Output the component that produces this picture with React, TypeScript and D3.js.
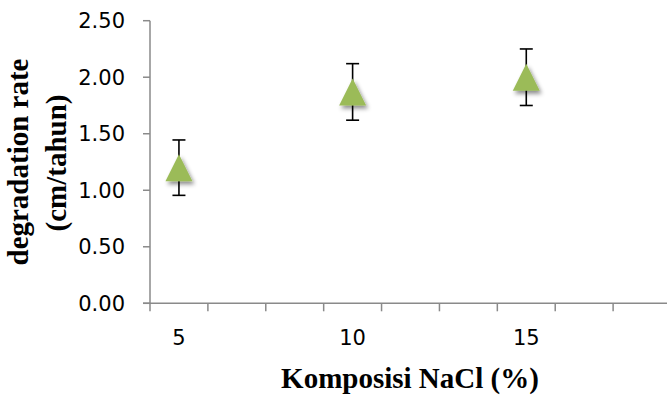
import React from "react";
import * as d3 from "d3";

const categories = ["5", "", "", "10", "", "", "15", "", ""];
const pointCategoryIndex = [0, 3, 6];
const rateValues = [1.2, 1.87, 2.0];
const rateErrors = [0.245, 0.25, 0.25];
const yTicks = [0, 0.5, 1.0, 1.5, 2.0, 2.5];

const W = 667;
const H = 395;
const left = 150;
const right = 671;
const top = 20.7;
const bottom = 303.3;

export default function App() {
  const x = d3.scaleBand<number>().domain(d3.range(categories.length)).range([left, right]).paddingInner(0).paddingOuter(0);
  const y = d3.scaleLinear().domain([0, 2.5]).range([bottom, top]);
  const axisColor = "#8a8a8a";
  const tri = 27;
  const tickFont = "'DejaVu Sans', sans-serif";
  const titleFont = "'Liberation Serif', 'Times New Roman', serif";
  const bandEdges = d3.range(categories.length + 1).map((i) => left + i * x.bandwidth());

  return (
    <svg width={W} height={H} style={{ position: "fixed", left: 0, top: 0, background: "#fff" }}>
      <defs>
        <filter id="sh" x="-50%" y="-50%" width="200%" height="200%">
          <feDropShadow dx="2" dy="3" stdDeviation="2" floodColor="#000" floodOpacity="0.45" />
        </filter>
      </defs>
      {/* y axis */}
      <line x1={left} x2={left} y1={top} y2={bottom} stroke={axisColor} strokeWidth={1.5} />
      {yTicks.map((t) => (
        <g key={t}>
          <line x1={left - 7} x2={left} y1={y(t)} y2={y(t)} stroke={axisColor} strokeWidth={1.5} />
          <text x={125} y={y(t) + 7.5} textAnchor="end" fontFamily={tickFont} fontSize={21} fill="#000">
            {d3.format(".2f")(t)}
          </text>
        </g>
      ))}
      {/* x axis */}
      <line x1={left - 7} x2={right} y1={bottom} y2={bottom} stroke={axisColor} strokeWidth={1.5} />
      {bandEdges.map((e, i) => (
        <line key={i} x1={e} x2={e} y1={bottom} y2={bottom + 8} stroke={axisColor} strokeWidth={1.5} />
      ))}
      {categories.map((c, i) =>
        c ? (
          <text key={i} x={(x(i) as number) + x.bandwidth() / 2} y={345} textAnchor="middle" fontFamily={tickFont} fontSize={21} fill="#000">
            {c}
          </text>
        ) : null
      )}
      {/* error bars */}
      {rateValues.map((v, i) => {
        const cx = (x(pointCategoryIndex[i]) as number) + x.bandwidth() / 2;
        const e = rateErrors[i];
        return (
          <g key={i} stroke="#000" strokeWidth={1.6}>
            <line x1={cx} x2={cx} y1={y(v + e)} y2={y(v - e)} />
            <line x1={cx - 6.5} x2={cx + 6.5} y1={y(v + e)} y2={y(v + e)} />
            <line x1={cx - 6.5} x2={cx + 6.5} y1={y(v - e)} y2={y(v - e)} />
          </g>
        );
      })}
      {/* markers */}
      {rateValues.map((v, i) => {
        const cx = (x(pointCategoryIndex[i]) as number) + x.bandwidth() / 2;
        const cy = y(v);
        const p = d3.path();
        p.moveTo(cx, cy - tri / 2);
        p.lineTo(cx + tri / 2, cy + tri / 2);
        p.lineTo(cx - tri / 2, cy + tri / 2);
        p.closePath();
        return <path key={i} d={p.toString()} fill="#9BBB59" filter="url(#sh)" />;
      })}
      {/* titles */}
      <text x={410} y={388} textAnchor="middle" fontFamily={titleFont} fontWeight="bold" fontSize={29} fill="#000">
        Komposisi NaCl (%)
      </text>
      <text transform="translate(28,162) rotate(-90)" textAnchor="middle" fontFamily={titleFont} fontWeight="bold" fontSize={29} fill="#000">
        degradation rate
      </text>
      <text transform="translate(66,163) rotate(-90)" textAnchor="middle" fontFamily={titleFont} fontWeight="bold" fontSize={29} fill="#000">
        (cm/tahun)
      </text>
    </svg>
  );
}
